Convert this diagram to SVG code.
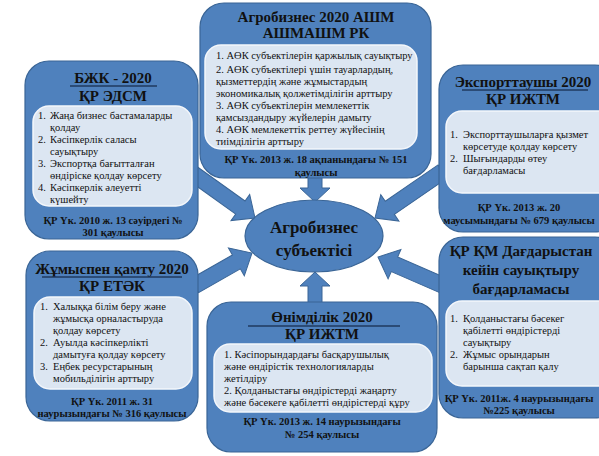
<svg xmlns="http://www.w3.org/2000/svg" width="599" height="456" viewBox="0 0 599 456">
<style>
.outer{fill:#4F81BD;stroke:#3A6596;stroke-width:1.2}
.inner{fill:#DCE6F2;stroke:#F4F7FB;stroke-width:1.5}
.arr{fill:#4F81BD;stroke:#3A6596;stroke-width:1}
text{font-family:"Liberation Serif","Times New Roman",serif;fill:#111}
.t{font-size:15px;font-weight:bold;text-anchor:middle}
.c{font-size:17px;font-weight:bold;text-anchor:middle}
.l{font-size:10.5px}
.f{font-size:10.5px;font-weight:bold;text-anchor:middle}
.ul{stroke:#1F3A5F;stroke-width:1.5}
</style>
<rect width="599" height="456" fill="#FFFFFF"/>
<g id="connectors">
<path class="arr" transform="translate(315,202) rotate(90)" d="M-28,-7 H-14 V-15 L0,0 L-14,15 V7 H-28 Z"/>
<path class="arr" transform="translate(315,272) rotate(-90)" d="M-32,-7 H-14 V-15 L0,0 L-14,15 V7 H-32 Z"/>
<path class="arr" transform="translate(255,218) rotate(35.6)" d="M-76,-8 H-18 V-16 L0,0 L-18,16 V8 H-76 Z"/>
<path class="arr" transform="translate(375,218) rotate(145.5)" d="M-82,-8 H-18 V-16 L0,0 L-18,16 V8 H-82 Z"/>
<path class="arr" transform="translate(252,253) rotate(-29.7)" d="M-66,-8 H-18 V-16 L0,0 L-18,16 V8 H-66 Z"/>
<path class="arr" transform="translate(378,257) rotate(-156.4)" d="M-72,-8 H-18 V-16 L0,0 L-18,16 V8 H-72 Z"/>
</g>
<g id="center">
<ellipse class="outer" cx="314" cy="236" rx="69" ry="36"/>
<text class="c" x="314" y="233">Агробизнес</text>
<text class="c" x="314" y="256">субъектісі</text>
</g>
<g id="top">
<rect class="outer" x="200" y="3" width="231" height="175" rx="24"/>
<text class="t" x="316" y="22">Агробизнес 2020 АШМ</text>
<text class="t" x="316" y="38">АШМАШМ  РК</text>
<rect class="inner" x="205" y="45" width="212" height="104" rx="16"/>
<text class="l" x="216" y="59">1.  АӨК субъектілерін қаржылық сауықтыру</text>
<text class="l" x="216" y="73">2.  АӨК субъектілері үшін тауарлардың,</text>
<text class="l" x="216" y="85">қызметтердің және жұмыстардың</text>
<text class="l" x="216" y="97">экономикалық қолжетімділігін  арттыру</text>
<text class="l" x="216" y="109">3.  АӨК субъектілерін мемлекеттік</text>
<text class="l" x="216" y="121">қамсыздандыру жүйелерін дамыту</text>
<text class="l" x="216" y="133">4.  АӨК мемлекеттік реттеу жүйесінің</text>
<text class="l" x="216" y="145">тиімділігін  арттыру</text>
<text class="f" x="316" y="163">ҚР Үк.  2013 ж. 18 ақпанындағы № 151</text>
<text class="f" x="316" y="176">қаулысы</text>
</g>
<g id="bzhk">
<rect class="outer" x="25" y="61" width="173" height="178" rx="24"/>
<text class="t" x="113" y="83">БЖК - 2020</text>
<line class="ul" x1="70" y1="86" x2="157" y2="86"/>
<text class="t" x="113" y="101">ҚР ЭДСМ</text>
<rect class="inner" x="33" y="106" width="159" height="100" rx="16"/>
<text class="l" x="38" y="119">1.</text><text class="l" x="50" y="119">Жаңа бизнес бастамаларды</text>
<text class="l" x="50" y="131">қолдау</text>
<text class="l" x="38" y="143">2.</text><text class="l" x="50" y="143">Кәсіпкерлік саласы</text>
<text class="l" x="50" y="155">сауықтыру</text>
<text class="l" x="38" y="167">3.</text><text class="l" x="50" y="167">Экспортқа бағытталған</text>
<text class="l" x="50" y="179">өндіріске қолдау көрсету</text>
<text class="l" x="38" y="191">4.</text><text class="l" x="50" y="191">Кәсіпкерлік әлеуетті</text>
<text class="l" x="50" y="203">күшейту</text>
<text class="f" x="113" y="224">ҚР Үк. 2010 ж. 13 сәуірдегі №</text>
<text class="f" x="113" y="236">301 қаулысы</text>
</g>
<g id="export">
<rect class="outer" x="439" y="65" width="180" height="167" rx="24"/>
<text class="t" x="523" y="87">Экспорттаушы  2020</text>
<line class="ul" x1="462" y1="90" x2="588" y2="90"/>
<text class="t" x="523" y="104">ҚР ИЖТМ</text>
<rect class="inner" x="446" y="111" width="170" height="82" rx="16"/>
<text class="l" x="450" y="138">1.</text><text class="l" x="463" y="138">Экспорттаушыларға қызмет</text>
<text class="l" x="463" y="150">көрсетуде қолдау көрсету</text>
<text class="l" x="450" y="162">2.</text><text class="l" x="463" y="162">Шығындарды өтеу</text>
<text class="l" x="463" y="174">бағдарламасы</text>
<text class="f" x="519" y="211">ҚР Үк. 2013 ж. 20</text>
<text class="f" x="519" y="224">маусымындағы № 679 қаулысы</text>
</g>
<g id="employment">
<rect class="outer" x="26" y="251" width="172" height="170" rx="24"/>
<text class="t" x="112" y="274">Жұмыспен қамту 2020</text>
<line class="ul" x1="42" y1="277" x2="182" y2="277"/>
<text class="t" x="112" y="291">ҚР ЕТӘК</text>
<rect class="inner" x="34" y="297" width="158" height="92" rx="16"/>
<text class="l" x="40" y="310">1.</text><text class="l" x="53" y="310">Халыққа білім беру және</text>
<text class="l" x="53" y="322">жұмысқа орналастыруда</text>
<text class="l" x="53" y="334">қолдау көрсету</text>
<text class="l" x="40" y="346">2.</text><text class="l" x="53" y="346">Ауылда кәсіпкерлікті</text>
<text class="l" x="53" y="358">дамытуға қолдау көрсету</text>
<text class="l" x="40" y="370">3.</text><text class="l" x="53" y="370">Еңбек ресурстарының</text>
<text class="l" x="53" y="382">мобильділігін арттыру</text>
<text class="f" x="112" y="405">ҚР Үк. 2011 ж. 31</text>
<text class="f" x="112" y="417">наурызындағы № 316 қаулысы</text>
</g>
<g id="productivity">
<rect class="outer" x="207" y="302" width="230" height="150" rx="24"/>
<text class="t" x="322" y="322">Өнімділік 2020</text>
<line class="ul" x1="248" y1="326" x2="400" y2="326"/>
<text class="t" x="322" y="339">ҚР ИЖТМ</text>
<rect class="inner" x="214" y="344" width="218" height="68" rx="16"/>
<text class="l" x="224" y="358">1.  Кәсіпорындардағы басқарушылық</text>
<text class="l" x="224" y="370">және өндірістік  технологияларды</text>
<text class="l" x="224" y="382">жетілдіру</text>
<text class="l" x="224" y="394">2.  Қолданыстағы өндірістерді жаңарту</text>
<text class="l" x="224" y="406">және бәсекеге қабілетті өндірістерді құру</text>
<text class="f" x="322" y="425">ҚР Үк. 2013 ж. 14 наурызындағы</text>
<text class="f" x="322" y="438">№ 254 қаулысы</text>
</g>
<g id="crisis">
<rect class="outer" x="439" y="237" width="180" height="181" rx="24"/>
<text class="t" x="521" y="256">ҚР ҚМ Дағдарыстан</text>
<text class="t" x="521" y="275">кейін сауықтыру</text>
<text class="t" x="521" y="294">бағдарламасы</text>
<rect class="inner" x="446" y="301" width="170" height="85" rx="16"/>
<text class="l" x="450" y="322">1.</text><text class="l" x="463" y="322">Қолданыстағы бәсекег</text>
<text class="l" x="463" y="334">қабілетті өндірістерді</text>
<text class="l" x="463" y="346">сауықтыру</text>
<text class="l" x="450" y="358">2.</text><text class="l" x="463" y="358">Жұмыс орындарын</text>
<text class="l" x="463" y="370">барынша сақтап қалу</text>
<text class="f" x="519" y="402">ҚР Үк. 2011ж. 4 наурызындағы</text>
<text class="f" x="519" y="414">№225  қаулысы</text>
</g>
</svg>
